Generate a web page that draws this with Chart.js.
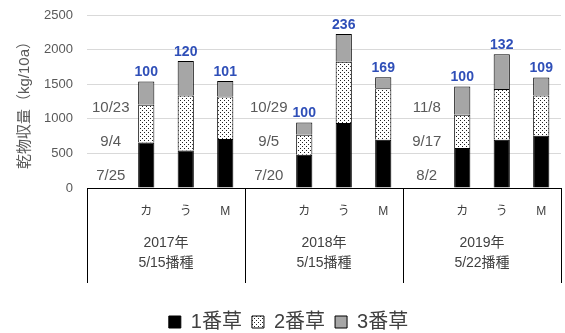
<!DOCTYPE html>
<html>
<head>
<meta charset="utf-8">
<script src="https://cdn.jsdelivr.net/npm/chart.js@4"></script>
<style>
  body { margin: 0; background: #fff; }
  #wrap { width: 565px; height: 333px; }
</style>
</head>
<body>
<div id="wrap"><canvas id="yieldChart"></canvas></div>
<script>
// 品種ごとの乾物収量（kg/10a）、各年の先頭は刈取日を書く空き枠
const varieties = ["", "カ", "う", "M", "", "カ", "う", "M", "", "カ", "う", "M"];
const cut1 = [null, 658, 543, 707, null, 480, 938, 697, null, 577, 697, 755];
const cut2 = [null, 544, 793, 615, null, 289, 885, 746, null, 481, 732, 581];
const cut3 = [null, 336, 501, 226, null, 178, 404, 159, null, 408, 505, 260];
// カを100とした指数
const indexLabels = [null, "100", "120", "101", null, "100", "236", "169", null, "100", "132", "109"];

const years = ["2017年", "2018年", "2019年"];
const sowing = ["5/15播種", "5/15播種", "5/22播種"];
// 刈取日（3番草, 2番草, 1番草の順）
const cutDates = [
    ["10/23", "9/4", "7/25"],
    ["10/29", "9/5", "7/20"],
    ["11/8", "9/17", "8/2"],
];
const dateLevels = [1160, 665, 170];

const baseFont = "'Liberation Sans', 'Noto Sans CJK JP', sans-serif";

// 2番草の点々模様
function dotPattern() {
    const c = document.createElement("canvas");
    c.width = 4;
    c.height = 4;
    const g = c.getContext("2d");
    g.fillStyle = "#fff";
    g.fillRect(0, 0, 4, 4);
    g.fillStyle = "#222";
    g.fillRect(0, 0, 1, 1);
    g.fillRect(2, 2, 1, 1);
    return g.createPattern(c, "repeat");
}

// 軸線、年の区切り線、年ラベル、刈取日、指数
const extras = {
    id: "extras",
    afterDatasetsDraw(chart) {
        const ctx = chart.ctx;
        const area = chart.chartArea;
        const xs = chart.scales.x;
        const ys = chart.scales.y;
        const catW = (area.right - area.left) / varieties.length;

        ctx.save();
        ctx.strokeStyle = "#000";
        ctx.lineWidth = 1;
        ctx.beginPath();
        ctx.moveTo(area.left, Math.round(area.bottom) + 0.5);
        ctx.lineTo(area.right, Math.round(area.bottom) + 0.5);
        for (let k = 0; k <= years.length; k++) {
            const x = Math.round(xs.getPixelForValue(k * 4) - catW / 2) + 0.5;
            ctx.moveTo(x, area.bottom);
            ctx.lineTo(x, area.bottom + 95);
        }
        ctx.stroke();

        ctx.fillStyle = "#404040";
        ctx.font = "14px " + baseFont;
        ctx.textAlign = "center";
        ctx.textBaseline = "middle";
        years.forEach((y, k) => {
            const cx = (xs.getPixelForValue(k * 4) + xs.getPixelForValue(k * 4 + 3)) / 2;
            ctx.fillText(y, cx, area.bottom + 55);
            ctx.fillText(sowing[k], cx, area.bottom + 75);
        });

        ctx.fillStyle = "#595959";
        ctx.font = "15px " + baseFont;
        cutDates.forEach((dates, k) => {
            const x = xs.getPixelForValue(k * 4) + 4;
            dates.forEach((d, j) => ctx.fillText(d, x, ys.getPixelForValue(dateLevels[j])));
        });

        ctx.fillStyle = "#2f4fb8";
        ctx.font = "bold 14px " + baseFont;
        ctx.textBaseline = "bottom";
        const top = chart.getDatasetMeta(2).data;
        indexLabels.forEach((t, i) => {
            if (t === null) return;
            ctx.fillText(t, top[i].x, top[i].y - 2);
        });
        ctx.restore();
    },
};

new Chart(document.getElementById("yieldChart"), {
    type: "bar",
    data: {
        labels: varieties,
        datasets: [
            { label: "1番草", data: cut1, backgroundColor: "#000", borderColor: "#000", borderWidth: 1 },
            { label: "2番草", data: cut2, backgroundColor: dotPattern(), borderColor: "#000", borderWidth: 1 },
            { label: "3番草", data: cut3, backgroundColor: "#a6a6a6", borderColor: "#000", borderWidth: 1 },
        ],
    },
    options: {
        responsive: true,
        maintainAspectRatio: false,
        animation: false,
        layout: { padding: { top: 15, right: 4, left: 16, bottom: -9 } },
        categoryPercentage: 1,
        barPercentage: 0.41,
        plugins: {
            tooltip: { enabled: false },
            legend: {
                position: "bottom",
                labels: {
                    boxWidth: 12,
                    boxHeight: 12,
                    color: "#404040",
                    font: { size: 20, family: baseFont },
                    padding: 10,
                },
            },
        },
        scales: {
            x: {
                stacked: true,
                grid: { display: false },
                border: { display: false },
                ticks: {
                    color: "#404040",
                    font: { size: 12, family: baseFont },
                    padding: 8,
                    autoSkip: false,
                    maxRotation: 0,
                },
                afterFit: (s) => { s.height = 114; },
            },
            y: {
                stacked: true,
                min: 0,
                max: 2500,
                grid: { color: "#d9d9d9", drawTicks: false },
                border: { display: false },
                ticks: {
                    stepSize: 500,
                    color: "#595959",
                    font: { size: 13, family: baseFont },
                    padding: 14,
                    callback: (v) => String(v),
                },
                title: {
                    display: true,
                    text: "乾物収量（kg/10a）",
                    color: "#595959",
                    font: { size: 15, family: baseFont },
                    padding: 0,
                },
                afterFit: (s) => { s.width = 71; s.paddingTop = 0; },
            },
        },
    },
    plugins: [extras],
});
</script>
</body>
</html>
